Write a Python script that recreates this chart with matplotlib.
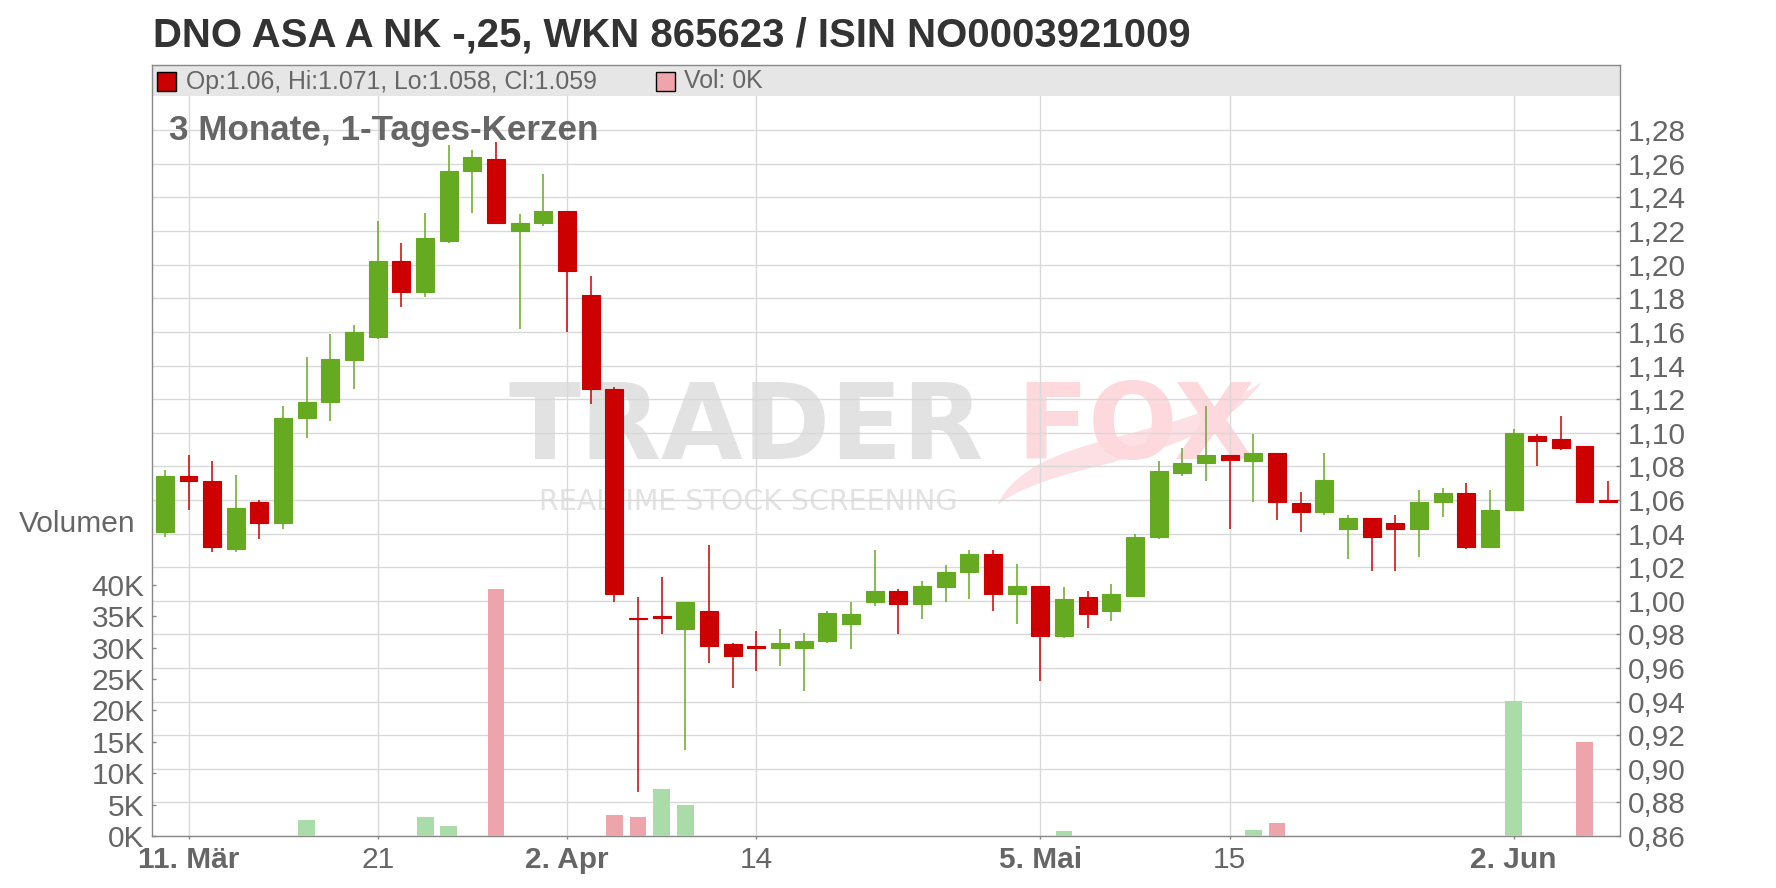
import numpy as np
import matplotlib
matplotlib.use('Agg')
import matplotlib.pyplot as plt
from matplotlib.patches import Rectangle, PathPatch
from matplotlib.path import Path
from matplotlib.ticker import FixedLocator, FuncFormatter

plt.rcParams['font.family'] = ['Liberation Sans', 'DejaVu Sans']

# daily candles, 1-day bars
dates = ['2025-03-10', '2025-03-11', '2025-03-12', '2025-03-13', '2025-03-14',
         '2025-03-17', '2025-03-18', '2025-03-19', '2025-03-20', '2025-03-21',
         '2025-03-24', '2025-03-25', '2025-03-26', '2025-03-27', '2025-03-28',
         '2025-03-31', '2025-04-01', '2025-04-02', '2025-04-03', '2025-04-04',
         '2025-04-07', '2025-04-08', '2025-04-09', '2025-04-10', '2025-04-11',
         '2025-04-14', '2025-04-15', '2025-04-16', '2025-04-17', '2025-04-22',
         '2025-04-23', '2025-04-24', '2025-04-25', '2025-04-28', '2025-04-29',
         '2025-04-30', '2025-05-02', '2025-05-05', '2025-05-06', '2025-05-07',
         '2025-05-08', '2025-05-09', '2025-05-12', '2025-05-13', '2025-05-14',
         '2025-05-15', '2025-05-16', '2025-05-19', '2025-05-20', '2025-05-21',
         '2025-05-22', '2025-05-23', '2025-05-26', '2025-05-27', '2025-05-28',
         '2025-05-29', '2025-05-30', '2025-06-02', '2025-06-03', '2025-06-04',
         '2025-06-05', '2025-06-06']

opens = [1.041, 1.074, 1.071, 1.031, 1.059, 1.046, 1.109, 1.118, 1.143, 1.157,
         1.202, 1.184, 1.214, 1.256, 1.263, 1.220, 1.225, 1.232, 1.182, 1.126,
         0.990, 0.991, 0.983, 0.994, 0.974, 0.973, 0.972, 0.972, 0.976, 0.986,
         0.999, 1.006, 0.998, 1.008, 1.017, 1.028, 1.004, 1.009, 0.979, 1.002,
         0.994, 1.003, 1.038, 1.076, 1.082, 1.087, 1.083, 1.088, 1.058, 1.053,
         1.043, 1.049, 1.046, 1.043, 1.059, 1.064, 1.032, 1.054, 1.098, 1.096,
         1.092, 1.060]
highs = [1.078, 1.087, 1.083, 1.075, 1.060, 1.116, 1.145, 1.159, 1.164, 1.226,
         1.213, 1.231, 1.271, 1.268, 1.273, 1.230, 1.254, 1.232, 1.193, 1.127,
         1.002, 1.014, 0.999, 1.033, 0.975, 0.982, 0.983, 0.981, 0.994, 0.999,
         1.030, 1.007, 1.012, 1.021, 1.030, 1.030, 1.022, 1.009, 1.008, 1.006,
         1.010, 1.040, 1.083, 1.091, 1.116, 1.087, 1.099, 1.088, 1.065, 1.088,
         1.051, 1.049, 1.051, 1.066, 1.067, 1.070, 1.066, 1.102, 1.099, 1.110,
         1.092, 1.071]
lows = [1.038, 1.054, 1.029, 1.029, 1.037, 1.043, 1.097, 1.107, 1.126, 1.156,
        1.175, 1.181, 1.213, 1.231, 1.224, 1.162, 1.223, 1.160, 1.117, 0.999,
        0.886, 0.980, 0.911, 0.963, 0.948, 0.958, 0.961, 0.946, 0.975, 0.971,
        0.997, 0.980, 0.989, 0.999, 1.001, 0.994, 0.986, 0.952, 0.978, 0.984,
        0.988, 1.002, 1.037, 1.074, 1.071, 1.043, 1.059, 1.048, 1.041, 1.051,
        1.025, 1.018, 1.018, 1.026, 1.050, 1.031, 1.032, 1.054, 1.080, 1.090,
        1.059, 1.058]
closes = [1.074, 1.071, 1.032, 1.055, 1.046, 1.109, 1.118, 1.144, 1.160, 1.202,
          1.184, 1.216, 1.256, 1.264, 1.225, 1.225, 1.232, 1.196, 1.126, 1.004,
          0.989, 0.990, 0.999, 0.973, 0.967, 0.972, 0.975, 0.976, 0.993, 0.992,
          1.006, 0.998, 1.009, 1.017, 1.028, 1.004, 1.009, 0.979, 1.001, 0.992,
          1.004, 1.038, 1.077, 1.082, 1.087, 1.084, 1.088, 1.059, 1.053, 1.072,
          1.049, 1.038, 1.043, 1.059, 1.064, 1.032, 1.054, 1.100, 1.095, 1.091,
          1.059, 1.059]
volumes = [0, 0, 0, 0, 0, 0, 2550, 0, 0, 0,
           0, 3000, 1600, 0, 39300, 0, 0, 0, 0, 3350,
           3000, 7500, 4900, 0, 0, 0, 0, 0, 0, 0,
           0, 0, 0, 0, 0, 0, 0, 0, 800, 0,
           0, 0, 0, 0, 0, 0, 950, 2050, 0, 0,
           0, 0, 0, 0, 0, 0, 0, 21500, 0, 0,
           15000, 0]

tick_dates = ['2025-03-11', '2025-03-21', '2025-04-02', '2025-04-14',
              '2025-05-05', '2025-05-15', '2025-06-02']
tick_labels = ['11. Mär', '21', '2. Apr', '14', '5. Mai', '15', '2. Jun']
tick_bold = [True, False, True, False, True, False, True]
price_ticks = [0.86, 0.88, 0.90, 0.92, 0.94, 0.96, 0.98, 1.00, 1.02, 1.04, 1.06,
               1.08, 1.10, 1.12, 1.14, 1.16, 1.18, 1.20, 1.22, 1.24, 1.26, 1.28]
vol_ticks = [0, 5000, 10000, 15000, 20000, 25000, 30000, 35000, 40000]

title = 'DNO ASA A NK -,25, WKN 865623 / ISIN NO0003921009'
subtitle = '3 Monate, 1-Tages-Kerzen'

GREEN = '#66aa22'
RED = '#cc0000'
VGREEN = '#aadcaa'
VRED = '#eea4ab'
GRID = '#d9d9d9'
AXIS = '#888888'
TXT = '#666666'

W, H = 1776, 888
fig = plt.figure(figsize=(W / 100, H / 100), dpi=100)
rect = [152.3 / W, 52 / H, (1620 - 152.3) / W, 771 / H]
ax = fig.add_axes(rect)
axv = fig.add_axes(rect, sharex=ax)
axv.patch.set_alpha(0)


def axfrac(px, py):
    # figure pixel (from top-left) -> axes fraction
    return ((px - 152.3) / 1467.7, (836 - py) / 771)


o = np.array(opens)
h = np.array(highs)
l = np.array(lows)
c = np.array(closes)
x = np.arange(len(dates))
col = np.where(c >= o, GREEN, RED)

# price panel
ax.vlines(x, l, h, colors=col, lw=1.1, zorder=3)
ax.bar(x, np.abs(c - o), bottom=np.minimum(o, c), width=0.76, color=col,
       edgecolor=col, linewidth=0.8, zorder=4)

ax.set_xlim(-0.53, 61.5)
ax.set_ylim(0.86, 0.86 + 771 / 1680.3)
ax.yaxis.tick_right()
ax.yaxis.set_major_locator(FixedLocator(price_ticks))
ax.yaxis.set_major_formatter(FuncFormatter(lambda v, p: f'{v:.2f}'.replace('.', ',')))
ax.tick_params(axis='y', direction='in', length=3, width=1, color=AXIS,
               labelsize=21.5, labelcolor=TXT, pad=5.5)

ax.set_xticks([dates.index(d) for d in tick_dates])
ax.set_xticklabels(tick_labels)
for lbl, b in zip(ax.get_xticklabels(), tick_bold):
    lbl.set_fontweight('bold' if b else 'normal')
ax.tick_params(axis='x', direction='out', length=2.5, width=1, color=AXIS,
               labelsize=21.5, labelcolor=TXT, pad=5)

ax.grid(True, color=GRID, lw=1.0)
ax.set_axisbelow(True)
for s in ax.spines.values():
    s.set_color(AXIS)
    s.set_linewidth(1)

# legend band at top of the plot
ax.add_patch(Rectangle((0, 1 - 31 / 771), 1, 31 / 771, transform=ax.transAxes,
                       facecolor='#e6e6e6', edgecolor='none', zorder=2))

# watermark
tx, ty = axfrac(508, 459)
ax.text(tx, ty, 'TRADER', transform=ax.transAxes, family='DejaVu Sans',
        weight='bold', size=76, color='#e2e2e2', va='baseline', zorder=0.3)
fx, fy = axfrac(1016, 459)
ax.text(fx, fy, 'FOX', transform=ax.transAxes, family='DejaVu Sans',
        weight='bold', size=76, color='#fdd8dd', va='baseline', zorder=0.3)
rx, ry = axfrac(539, 510)
ax.text(rx, ry, 'REALTIME STOCK SCREENING', transform=ax.transAxes,
        family='DejaVu Sans', size=20.5, color='#e2e2e2', va='baseline', zorder=0.3)
# fox tail swoosh
tail_px = [(997, 505), (1035, 430), (1170, 445), (1262, 382),
           (1195, 470), (1065, 455), (997, 505)]
tail = Path([axfrac(*p) for p in tail_px],
            [Path.MOVETO, Path.CURVE4, Path.CURVE4, Path.CURVE4,
             Path.CURVE4, Path.CURVE4, Path.CURVE4])
ax.add_patch(PathPatch(tail, transform=ax.transAxes, facecolor='#fde0e3',
                       edgecolor='none', zorder=0.2))

# volume panel
vup = c >= np.concatenate([[c[0]], c[:-1]])
axv.bar(x, volumes, width=0.71, color=np.where(vup, VGREEN, VRED), zorder=3)
axv.set_ylim(0, 771 / 31.4 * 5000)
axv.yaxis.set_major_locator(FixedLocator(vol_ticks))
axv.yaxis.set_major_formatter(FuncFormatter(lambda v, p: f'{v / 1000:.0f}K'))
axv.tick_params(axis='y', direction='in', length=3, width=1, color=AXIS,
                labelsize=21.5, labelcolor=TXT, pad=5.5)
axv.tick_params(axis='x', bottom=False, labelbottom=False)
for s in axv.spines.values():
    s.set_visible(False)

# texts
fig.text(153 / W, 1 - 46.7 / H, title, va='baseline', ha='left', weight='bold',
         size=28.9, color='#333333')
fig.text(169.3 / W, 1 - 140 / H, subtitle, va='baseline', ha='left',
         weight='bold', size=25.2, color=TXT, zorder=5)
fig.text(18.6 / W, 1 - 531.7 / H, 'Volumen', va='baseline', ha='left',
         size=21.5, color=TXT)

leg_text = f'Op:{opens[-1]:g}, Hi:{highs[-1]:g}, Lo:{lows[-1]:g}, Cl:{closes[-1]:g}'
fig.add_artist(Rectangle((157.3 / W, 1 - 90.7 / H), 18.4 / W, 18.4 / H,
                         transform=fig.transFigure, facecolor=RED,
                         edgecolor='black', lw=1, zorder=5))
fig.text(185.7 / W, 1 - 81.5 / H, leg_text, va='center', ha='left', size=17.9,
         color=TXT, zorder=5)
fig.add_artist(Rectangle((656.3 / W, 1 - 90.7 / H), 18.4 / W, 18.4 / H,
                         transform=fig.transFigure, facecolor=VRED,
                         edgecolor='black', lw=1, zorder=5))
fig.text(684 / W, 1 - 81.5 / H, f'Vol: {volumes[-1] / 1000:.0f}K', va='center',
         ha='left', size=17.9, color=TXT, zorder=5)

fig.savefig('out.png', dpi=100)
